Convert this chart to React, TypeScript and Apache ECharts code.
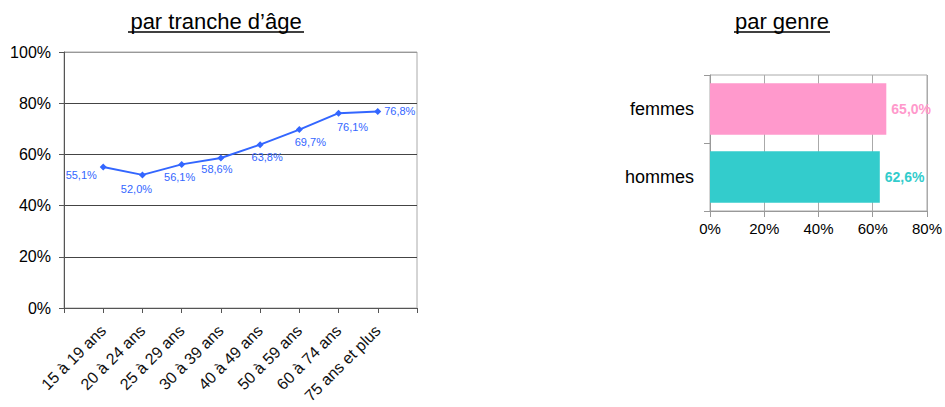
import React, { useEffect, useRef } from "react";
import * as echarts from "echarts";

const ageCategories = [
  "15 à 19 ans",
  "20 à 24 ans",
  "25 à 29 ans",
  "30 à 39 ans",
  "40 à 49 ans",
  "50 à 59 ans",
  "60 à 74 ans",
  "75 ans et plus",
];
const ageValues = [55.1, 52.0, 56.1, 58.6, 63.8, 69.7, 76.1, 76.8];
const genderCategories = ["femmes", "hommes"];
const genderValues = [65.0, 62.6];
const genderColors = ["#FF99CC", "#33CCCC"];
const ageLabelOffsets: [number, number][] = [
  [-22, 8],
  [-6, 14],
  [-2, 13],
  [-4, 11],
  [7, 12],
  [11, 12],
  [14, 14],
  [22, 0],
];

const fmt = (v: number) => v.toFixed(1).replace(".", ",") + "%";
const FONT = "Liberation Sans, Arial, sans-serif";

export default function App() {
  const ref = useRef<HTMLDivElement>(null);
  useEffect(() => {
    if (!ref.current) return;
    const chart = echarts.init(ref.current, undefined, { renderer: "svg" });
    chart.setOption({
      animation: false,
      backgroundColor: "#fff",
      textStyle: { fontFamily: FONT },
      graphic: [
        {
          type: "text",
          x: 216,
          y: 21,
          style: {
            text: "par tranche d’âge",
            font: `22px ${FONT}`,
            fill: "#000",
            align: "center",
            verticalAlign: "middle",
          },
        },
        {
          type: "line",
          shape: { x1: 128, y1: 32, x2: 304, y2: 32 },
          style: { stroke: "#000", lineWidth: 1.5 },
        },
        {
          type: "text",
          x: 782,
          y: 21,
          style: {
            text: "par genre",
            font: `22px ${FONT}`,
            fill: "#000",
            align: "center",
            verticalAlign: "middle",
          },
        },
        {
          type: "line",
          shape: { x1: 734, y1: 32, x2: 830, y2: 32 },
          style: { stroke: "#000", lineWidth: 1.5 },
        },
      ],
      grid: [
        {
          left: 64,
          top: 52,
          width: 353,
          height: 256,
          show: true,
          borderColor: "#aaa",
          borderWidth: 1,
          backgroundColor: "transparent",
        },
        {
          left: 710,
          top: 75,
          width: 219,
          height: 136,
          show: true,
          borderColor: "#aaa",
          borderWidth: 1,
          backgroundColor: "transparent",
        },
      ],
      xAxis: [
        {
          type: "category",
          gridIndex: 0,
          data: ["", ...ageCategories, ""],
          boundaryGap: false,
          axisLine: { lineStyle: { color: "#555" } },
          axisTick: { show: true, length: 5, interval: 0, lineStyle: { color: "#555" } },
          axisLabel: {
            interval: 0,
            rotate: 45,
            fontSize: 16,
            color: "#111",
            margin: 20,
          },
          splitLine: { show: false },
        },
        {
          type: "value",
          gridIndex: 1,
          min: 0,
          max: 80,
          interval: 20,
          axisLine: { show: true, lineStyle: { color: "#999" } },
          axisTick: { show: true, length: 6, lineStyle: { color: "#999" } },
          axisLabel: {
            formatter: "{value}%",
            fontSize: 15,
            color: "#000",
            margin: 10,
          },
          splitLine: { show: true, lineStyle: { color: "#aaa" } },
        },
      ],
      yAxis: [
        {
          type: "value",
          gridIndex: 0,
          min: 0,
          max: 100,
          interval: 20,
          axisLine: { show: true, lineStyle: { color: "#555" } },
          axisTick: { show: true, length: 5, lineStyle: { color: "#555" } },
          axisLabel: {
            formatter: "{value}%",
            fontSize: 16,
            color: "#000",
            margin: 13,
          },
          splitLine: {
            show: true,
            lineStyle: { color: ["#444", "#444", "#444", "#444", "#444", "#999"] },
          },
        },
        {
          type: "category",
          gridIndex: 1,
          data: genderCategories,
          inverse: true,
          axisLine: { show: true, lineStyle: { color: "#999" } },
          axisTick: { show: true, length: 6, lineStyle: { color: "#999" } },
          axisLabel: { fontSize: 18, color: "#000", margin: 16 },
        },
      ],
      series: [
        {
          type: "line",
          xAxisIndex: 0,
          yAxisIndex: 0,
          data: [
            "-",
            ...ageValues.map((v, i) => ({
              value: v,
              label: {
                show: true,
                position: "inside",
                offset: ageLabelOffsets[i],
                formatter: fmt(v),
                color: "#3366FF",
                fontSize: 11,
              },
            })),
            "-",
          ],
          symbol: "diamond",
          symbolSize: 7,
          lineStyle: { color: "#3366FF", width: 2 },
          itemStyle: { color: "#3366FF" },
        },
        {
          type: "bar",
          xAxisIndex: 1,
          yAxisIndex: 1,
          barCategoryGap: "24%",
          data: genderValues.map((v, i) => ({
            value: v,
            itemStyle: { color: genderColors[i] },
            label: {
              show: true,
              position: "right",
              distance: 5,
              formatter: fmt(v),
              color: genderColors[i],
              fontWeight: "bold",
              fontSize: 14,
            },
          })),
        },
      ],
    });
    return () => chart.dispose();
  }, []);
  return (
    <div
      ref={ref}
      style={{ position: "fixed", left: 0, top: 0, width: 945, height: 407 }}
    />
  );
}
